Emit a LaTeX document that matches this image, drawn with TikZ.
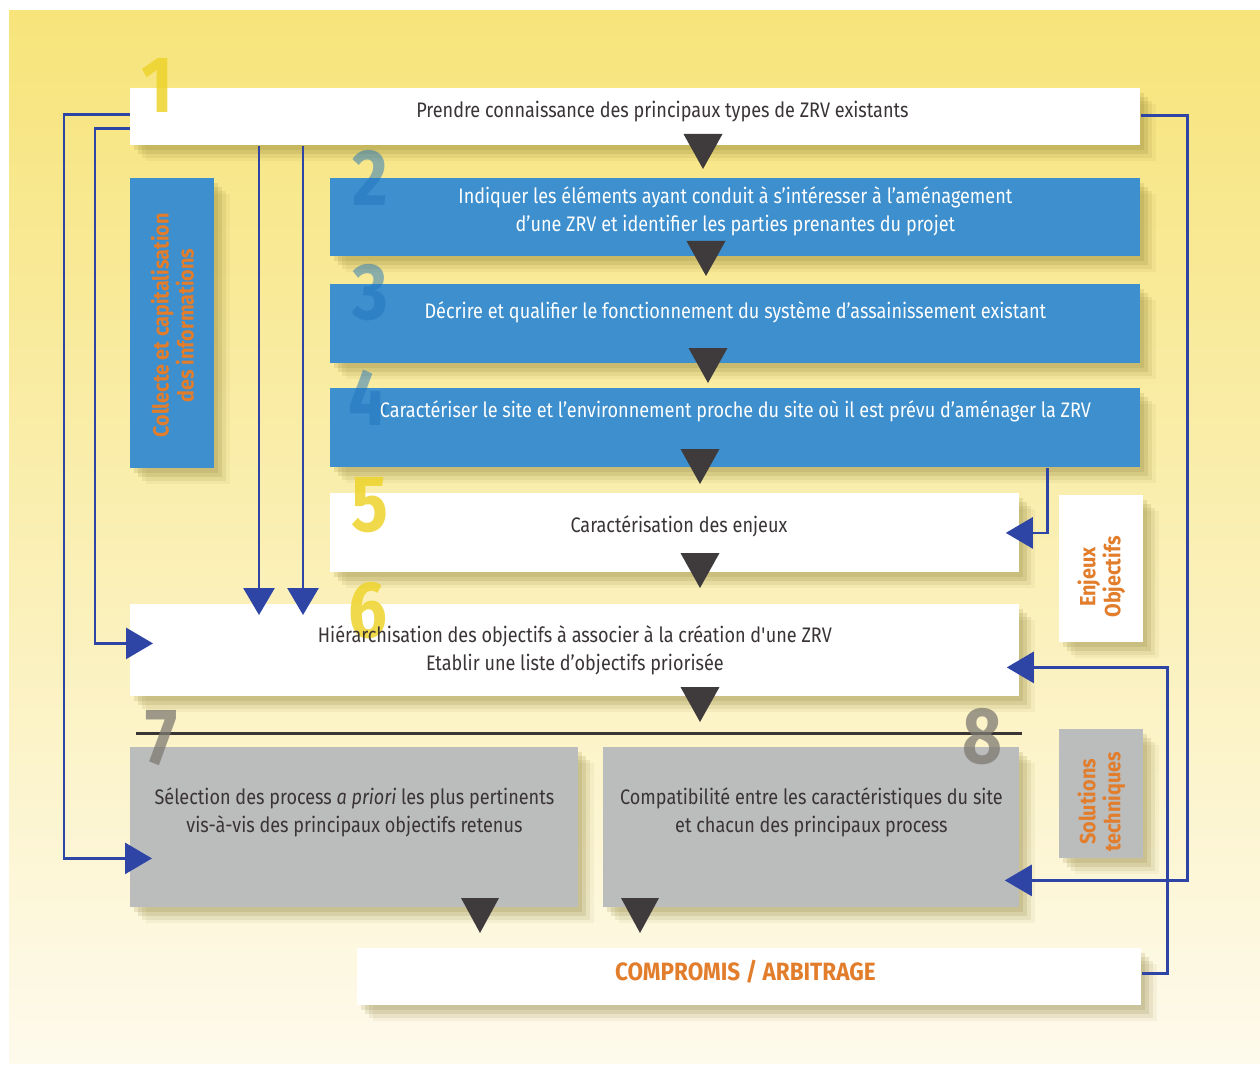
\documentclass[tikz,border=0pt]{standalone}
\usepackage{fontspec}
\setmainfont{Fira Sans}
\newfontfamily\narrowfont{Fira Sans}[FakeStretch=0.86]
\newfontfamily\labelfont{Fira Sans}[FakeStretch=0.9]
\usetikzlibrary{arrows.meta,shadows}

\definecolor{bgtop}{HTML}{F7E47A}
\definecolor{bgmid}{HTML}{F8EBA2}
\definecolor{bgbot}{HTML}{FEFAEC}
\definecolor{zrvblue}{HTML}{3D8FCE}
\definecolor{zrvgrey}{HTML}{BBBCBC}
\definecolor{zrvtext}{HTML}{3A3435}
\definecolor{zrvorange}{HTML}{E27D2C}
\definecolor{linkblue}{HTML}{2F45A6}
\definecolor{tridark}{HTML}{3F3B3C}
\definecolor{shadowc}{HTML}{7A6E20}
\definecolor{numyellow}{HTML}{EED42C}
\definecolor{numblue}{HTML}{1F74BC}
\definecolor{numgrey}{HTML}{7E7A72}

\tikzset{
  boxshadow/.style={
    drop shadow={shadow xshift=2pt,shadow yshift=-2.5pt,fill=shadowc,opacity=0.14},
    drop shadow={shadow xshift=4pt,shadow yshift=-4.5pt,fill=shadowc,opacity=0.14},
    drop shadow={shadow xshift=6pt,shadow yshift=-6.5pt,fill=shadowc,opacity=0.1},
    drop shadow={shadow xshift=8pt,shadow yshift=-8pt,fill=shadowc,opacity=0.06}},
  box/.style={rectangle,inner sep=0pt,anchor=north west,boxshadow},
  whitebox/.style={box,fill=white},
  bluebox/.style={box,fill=zrvblue},
  greybox/.style={box,fill=zrvgrey},
  boxtext/.style={inner sep=0pt,align=center,text=zrvtext,
    font=\narrowfont\fontsize{10.5}{14}\selectfont},
  sidelabel/.style={rotate=90,align=center,text=zrvorange,
    font=\labelfont\bfseries\fontsize{11}{12.5}\selectfont},
  bignum/.style={font=\narrowfont\bfseries\fontsize{40}{40}\selectfont,inner sep=0pt},
  link/.style={draw=linkblue,line width=1.4pt,-{Triangle[length=13.5pt,width=15.5pt]}},
  flowtri/.style={fill=tridark},
  sepline/.style={draw=zrvtext,line width=1.5pt}
}

\begin{document}
\begin{tikzpicture}[x=0.5pt,y=-0.5pt]
  \useasboundingbox (0,0) rectangle (1260,1065);
  \shade[top color=bgtop,middle color=bgmid,bottom color=bgbot] (9,11) rectangle (1260,1063);

  % boites
  \node[whitebox,minimum width=505pt,minimum height=28.5pt] (b1) at (130,88) {};
  \node[bluebox,minimum width=405pt,minimum height=39pt] (b2) at (330,178) {};
  \node[bluebox,minimum width=405pt,minimum height=39.5pt] (b3) at (330,284) {};
  \node[bluebox,minimum width=405pt,minimum height=39.5pt] (b4) at (330,388) {};
  \node[whitebox,minimum width=344.5pt,minimum height=39.5pt] (b5) at (330,493) {};
  \node[whitebox,minimum width=444.5pt,minimum height=46pt] (b6) at (130,604) {};
  \node[greybox,minimum width=224pt,minimum height=80pt] (b7) at (130,747) {};
  \node[greybox,minimum width=208pt,minimum height=80pt] (b8) at (603,747) {};
  \node[whitebox,minimum width=392pt,minimum height=28.5pt] (comp) at (357,948) {};

  % boites laterales
  \node[bluebox,minimum width=42pt,minimum height=145pt,
    label={[sidelabel,xshift=-1pt]center:{Collecte et capitalisation\\des informations}}] (collect) at (130,178) {};
  \node[whitebox,minimum width=42pt,minimum height=73.5pt,
    label={[sidelabel,xshift=-4pt]center:{Enjeux\\Objectifs}}] (enjeux) at (1059,495) {};
  \node[greybox,minimum width=42pt,minimum height=64.5pt,
    label={[sidelabel,xshift=-4pt]center:{Solutions\\techniques}}] (solut) at (1059,729) {};

  \draw[sepline] (136,733) -- (1022,733);

  % numeros
  \node[bignum,text=numyellow,opacity=0.85] (n1) at (157,85) {1};
  \node[bignum,text=numblue,opacity=0.5] (n2) at (370,178) {2};
  \node[bignum,text=numblue,opacity=0.5] (n3) at (370,293) {3};
  \node[bignum,text=numblue,opacity=0.5] (n4) at (368,398) {4};
  \node[bignum,text=numyellow,opacity=0.85] (n5) at (370,505) {5};
  \node[bignum,text=numyellow,opacity=0.85] (n6) at (368,611) {6};
  \node[bignum,text=numgrey,opacity=0.75] (n7) at (162,738) {7};
  \node[bignum,text=numgrey,opacity=0.75] (n8) at (982,737) {8};

  % textes des boites
  \node[boxtext,xshift=13.5pt,yshift=2.75pt] (t1) at (b1.center)
    {Prendre connaissance des principaux types de ZRV existants};
  \node[boxtext,text=white,yshift=3pt] (t2) at (b2.center)
    {Indiquer les éléments ayant conduit à s’intéresser à l’aménagement\\d’une ZRV et identifier les parties prenantes du projet};
  \node[boxtext,text=white,yshift=6pt] (t3) at (b3.center)
    {Décrire et qualifier le fonctionnement du système d’assainissement existant};
  \node[boxtext,text=white,yshift=8.5pt] (t4) at (b4.center)
    {Caractériser le site et l’environnement proche du site où il est prévu d’aménager la ZRV};
  \node[boxtext,yshift=3.5pt,xshift=2pt] (t5) at (b5.center) {Caractérisation des enjeux};
  \node[boxtext] (t6) at (b6.center)
    {Hiérarchisation des objectifs à associer à la création d\textquotesingle une ZRV\\Etablir une liste d’objectifs priorisée};
  \node[boxtext,yshift=7.75pt] (t7) at (b7.center)
    {Sélection des process \emph{a priori} les plus pertinents\\vis-à-vis des principaux objectifs retenus};
  \node[boxtext,yshift=7.75pt] (t8) at (b8.center)
    {Compatibilité entre les caractéristiques du site\\et chacun des principaux process};
  \node[boxtext,text=zrvorange,yshift=2.75pt,xshift=-2pt,
    font=\labelfont\bfseries\fontsize{12.5}{14}\selectfont] (tcomp) at (comp.center) {COMPROMIS / ARBITRAGE};

  % liaisons
  \draw[link] ([yshift=1.25pt]b1.west) -- ++(-66,0) |- ([xshift=11pt,yshift=-15.5pt]b7.west);
  \draw[link] ([yshift=-5.75pt]b1.west) -- ++(-35,0) |- ([xshift=11.5pt,yshift=3.5pt]b6.west);
  \draw[link] ([xshift=64.5pt]b1.south west) -- ([xshift=64.5pt,yshift=-5.5pt]b6.north west);
  \draw[link] ([xshift=86.5pt]b1.south west) -- ([xshift=86.5pt,yshift=-5.5pt]b6.north west);
  \draw[link] ([xshift=-46.5pt]b4.south east) |- ([xshift=-7pt]b5.east);
  \draw[link] ([yshift=0.75pt]b1.east) -- ++(47,0) |- ([xshift=-7.5pt,yshift=-26.5pt]b8.east);
  \draw[link] ([yshift=1.75pt]comp.east) -- ++(26,0) |- ([xshift=-6.5pt,yshift=-8.5pt]b6.east);

  % triangles d'enchainement
  \fill[flowtri] (683.5,134) -- (722.5,134) -- (703,169) -- cycle;
  \fill[flowtri] (686.5,241) -- (725.5,241) -- (706,276) -- cycle;
  \fill[flowtri] (688.5,348) -- (727.5,348) -- (708,383) -- cycle;
  \fill[flowtri] (680.5,449) -- (719.5,449) -- (700,484) -- cycle;
  \fill[flowtri] (680.5,553) -- (719.5,553) -- (700,588) -- cycle;
  \fill[flowtri] (680.5,687) -- (719.5,687) -- (700,722) -- cycle;
  \fill[flowtri] (461,898) -- (499,898) -- (480,933) -- cycle;
  \fill[flowtri] (621,898) -- (659,898) -- (640,933) -- cycle;
\end{tikzpicture}
\end{document}
